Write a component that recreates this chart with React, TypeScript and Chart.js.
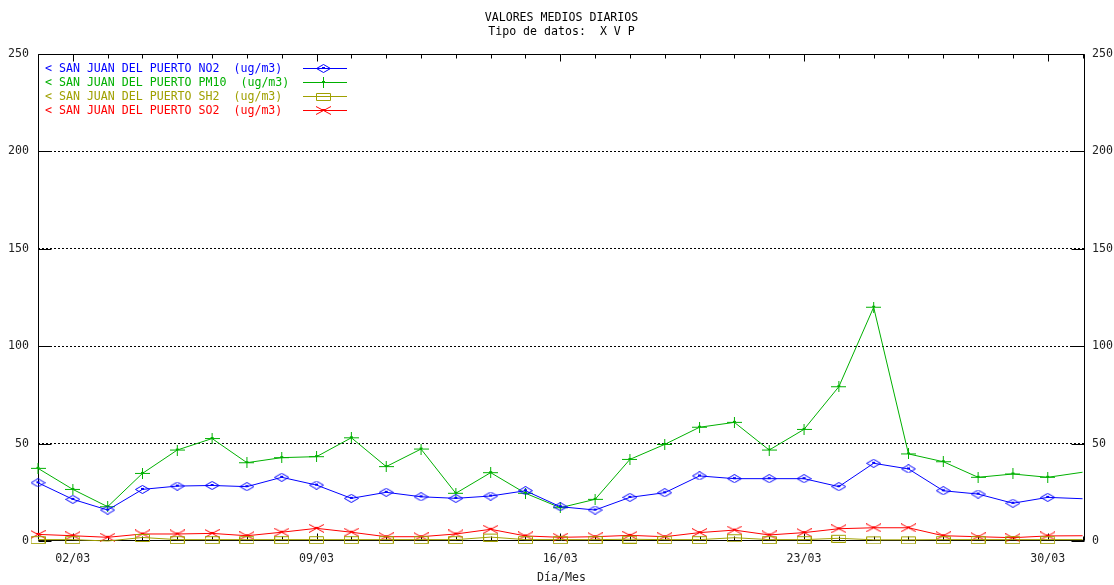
import React, { useEffect, useRef } from 'react';
import { Chart, registerables } from 'chart.js';

Chart.register(...registerables);

const categories = [
  '01/03', '02/03', '03/03', '04/03', '05/03', '06/03', '07/03', '08/03', '09/03', '10/03',
  '11/03', '12/03', '13/03', '14/03', '15/03', '16/03', '17/03', '18/03', '19/03', '20/03',
  '21/03', '22/03', '23/03', '24/03', '25/03', '26/03', '27/03', '28/03', '29/03', '30/03', '31/03',
];

const no2 = [29.9, 21.4, 15.9, 26.5, 28.2, 28.5, 27.9, 32.7, 28.7, 21.9, 25.0, 22.7, 21.9, 23.1, 25.8, 17.6,
  15.9, 22.4, 24.8, 33.4, 32.0, 32.0, 32.0, 27.9, 39.9, 37.0, 25.8, 24.1, 19.4, 22.4, 21.7];
const pm10 = [37.3, 26.5, 17.6, 34.7, 46.7, 52.6, 40.2, 42.8, 43.3, 53.0, 38.2, 47.2, 24.5, 35.1, 24.5, 17.1,
  21.4, 41.9, 49.6, 58.4, 60.9, 46.7, 57.3, 79.2, 120.0, 44.7, 40.7, 32.7, 34.4, 32.7, 35.3];
const sh2 = [0.7, 0.7, 0, 1.8, 0.7, 0.7, 0.7, 0.7, 0.7, 0.7, 0.7, 0.7, 0.7, 2.0, 0.7, 0.7,
  0.7, 0.9, 0.7, 0.7, 1.7, 0.7, 0.7, 1.4, 0.6, 0.6, 0.7, 0.7, 0.7, 0.7, 0.7];
const so2 = [3.4, 2.7, 1.9, 3.6, 3.6, 3.9, 2.7, 4.5, 6.5, 4.5, 2.2, 2.2, 3.6, 6.0, 2.6, 1.9,
  2.2, 2.9, 2.2, 4.3, 5.6, 3.1, 4.3, 6.3, 6.8, 6.8, 2.7, 2.2, 1.7, 2.6, 2.7];

const seriesLabels = [
  '< SAN JUAN DEL PUERTO NO2  (ug/m3)',
  '< SAN JUAN DEL PUERTO PM10  (ug/m3)',
  '< SAN JUAN DEL PUERTO SH2  (ug/m3)',
  '< SAN JUAN DEL PUERTO SO2  (ug/m3)',
];
const seriesColors = ['#0000ff', '#00b000', '#a0a000', '#ff0000'];
const seriesMarkers = ['diamond', 'plus', 'box', 'x'];

const xTickDays = [2, 9, 16, 23, 30];
const xTickLabels = ['02/03', '09/03', '16/03', '23/03', '30/03'];
const yTicks = [0, 50, 100, 150, 200, 250];

const titleLines = ['VALORES MEDIOS DIARIOS', 'Tipo de datos:  X V P'];
const xTitle = 'Día/Mes';

const FONT = "'DejaVu Sans Mono', 'Liberation Mono', monospace";
const FSIZE = 11.6;

function makeMarker(kind: string, color: string): HTMLCanvasElement {
  const c = document.createElement('canvas');
  const w = 15;
  const h = kind === 'plus' ? 11 : 9;
  c.width = w;
  c.height = h;
  const g = c.getContext('2d')!;
  g.strokeStyle = color;
  g.fillStyle = color;
  g.lineWidth = 1;
  g.beginPath();
  if (kind === 'diamond') {
    g.moveTo(0.5, h / 2);
    g.lineTo(w / 2, 0.5);
    g.lineTo(w - 0.5, h / 2);
    g.lineTo(w / 2, h - 0.5);
    g.closePath();
  } else if (kind === 'plus') {
    g.moveTo(0, 5.5);
    g.lineTo(w, 5.5);
    g.moveTo(7.5, 0);
    g.lineTo(7.5, h);
  } else if (kind === 'box') {
    g.rect(0.5, 1.5, w - 1, h - 2);
  } else {
    g.moveTo(0, 0.5);
    g.lineTo(w, h - 0.5);
    g.moveTo(0, h - 0.5);
    g.lineTo(w, 0.5);
  }
  g.stroke();
  if (kind !== 'box') g.fillRect(6, Math.floor(h / 2) - 1, 3, 2);
  return c;
}

export default function App() {
  const ref = useRef<HTMLCanvasElement | null>(null);

  useEffect(() => {
    document.body.style.margin = '0';
    const canvas = ref.current;
    if (!canvas) return;
    const markers = seriesMarkers.map((m, i) => makeMarker(m, seriesColors[i]));
    const seriesData = [no2, pm10, sh2, so2];

    const framePlugin = {
      id: 'frame',
      beforeDatasetsDraw(chart: any) {
        const { ctx, chartArea } = chart;
        const { left, right, top, bottom } = chartArea;
        const xs = chart.scales.x;
        const ys = chart.scales.y;
        ctx.save();
        ctx.strokeStyle = '#000';
        ctx.lineWidth = 1;
        ctx.setLineDash([]);
        const L = Math.round(left) + 0.5;
        const R = Math.round(right) - 0.5;
        const T = Math.round(top) + 0.5;
        const B = Math.round(bottom) - 0.5;
        ctx.beginPath();
        ctx.rect(L, T, R - L, B - T);
        yTicks.forEach((v) => {
          const y = Math.round(ys.getPixelForValue(v)) + 0.5;
          ctx.moveTo(L, y);
          ctx.lineTo(L + 13, y);
          ctx.moveTo(R, y);
          ctx.lineTo(R - 13, y);
        });
        categories.forEach((_, i) => {
          const d = i + 1;
          const len = xTickDays.includes(d) ? 7 : 4;
          const x = Math.round(xs.getPixelForValue(d)) + 0.5;
          ctx.moveTo(x, B);
          ctx.lineTo(x, B - len);
          ctx.moveTo(x, T);
          ctx.lineTo(x, T + len);
        });
        ctx.stroke();
        ctx.restore();
      },
      afterDraw(chart: any) {
        const { ctx, chartArea } = chart;
        const { left, top } = chartArea;
        ctx.save();
        ctx.font = `${FSIZE}px ${FONT}`;
        ctx.textBaseline = 'middle';
        ctx.textAlign = 'left';
        seriesLabels.forEach((label, i) => {
          const y = Math.round(top + 14 + i * 14) + 0.5;
          ctx.fillStyle = seriesColors[i];
          ctx.fillText(label, left + 7, y);
          ctx.strokeStyle = seriesColors[i];
          ctx.lineWidth = 1;
          ctx.beginPath();
          ctx.moveTo(left + 265, y);
          ctx.lineTo(left + 309, y);
          ctx.stroke();
          const m = markers[i];
          ctx.drawImage(m, Math.round(left + 285 - m.width / 2), Math.round(y - m.height / 2));
        });
        ctx.restore();
      },
    };

    const datasets = seriesData.map((arr, i) => ({
      label: seriesLabels[i],
      data: categories.map((_, k) => ({ x: k + 1, y: arr[k] })),
      borderColor: seriesColors[i],
      backgroundColor: seriesColors[i],
      borderWidth: 1,
      pointStyle: markers[i],
      pointRadius: (c: any) => (c.dataIndex === categories.length - 1 || c.raw?.y <= 0 ? 0 : 5),
      pointHoverRadius: 0,
      tension: 0,
      fill: false,
      clip: false as any,
    }));

    const chart = new Chart(canvas, {
      type: 'line',
      data: { datasets },
      plugins: [framePlugin],
      options: {
        responsive: false,
        animation: false,
        events: [],
        devicePixelRatio: 1,
        layout: { padding: 0 },
        plugins: {
          legend: { display: false },
          tooltip: { enabled: false },
          title: {
            display: true,
            fullSize: false,
            text: titleLines,
            color: '#000',
            font: { family: FONT, size: FSIZE, weight: 'normal', lineHeight: 14 / FSIZE },
            padding: { top: 11, bottom: 15 },
          },
        },
        scales: {
          x: {
            type: 'linear',
            position: 'bottom',
            min: 1,
            max: 31.07,
            afterBuildTicks: (s: any) => {
              s.ticks = xTickDays.map((v) => ({ value: v }));
            },
            afterFit: (s: any) => {
              s.height = 44;
            },
            grid: { display: false, drawTicks: false },
            border: { display: false },
            ticks: {
              autoSkip: false,
              maxRotation: 0,
              padding: 11,
              color: '#222',
              font: { family: FONT, size: FSIZE },
              callback: (v: any) => {
                const idx = xTickDays.indexOf(Number(v));
                return idx >= 0 ? xTickLabels[idx] : '';
              },
            },
            title: {
              display: true,
              text: xTitle,
              color: '#222',
              font: { family: FONT, size: FSIZE, lineHeight: 14 / FSIZE },
              padding: { top: 0, bottom: 0 },
            },
          },
          y: {
            position: 'left',
            min: 0,
            max: 250,
            afterBuildTicks: (s: any) => {
              s.ticks = yTicks.map((v) => ({ value: v }));
            },
            afterFit: (s: any) => {
              s.width = 38;
            },
            grid: {
              drawTicks: false,
              lineWidth: 1,
              color: (c: any) => (c.tick && (c.tick.value === 0 || c.tick.value === 250) ? 'rgba(0,0,0,0)' : '#000'),
            },
            border: { display: false, dash: [2, 2] },
            ticks: {
              padding: 9,
              color: '#222',
              font: { family: FONT, size: FSIZE },
            },
          },
          y2: {
            position: 'right',
            min: 0,
            max: 250,
            afterBuildTicks: (s: any) => {
              s.ticks = yTicks.map((v) => ({ value: v }));
            },
            afterFit: (s: any) => {
              s.width = 29;
            },
            grid: { display: false, drawTicks: false },
            border: { display: false },
            ticks: {
              padding: 7,
              color: '#222',
              font: { family: FONT, size: FSIZE },
            },
          },
        },
      },
    } as any);

    return () => {
      chart.destroy();
    };
  }, []);

  return (
    <div style={{ width: 1114, height: 585 }}>
      <canvas ref={ref} width={1114} height={585} style={{ display: 'block', width: 1114, height: 585 }} />
    </div>
  );
}
